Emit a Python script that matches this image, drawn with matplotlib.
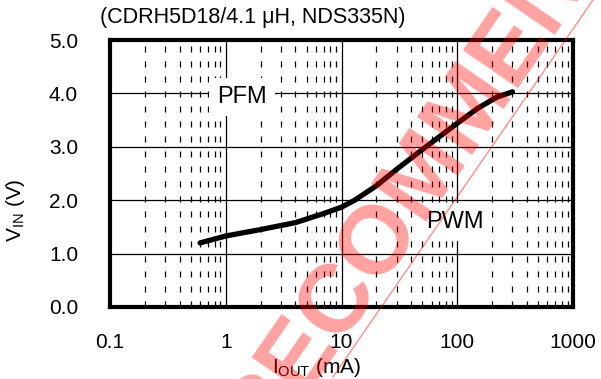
import numpy as np
import matplotlib
matplotlib.use("Agg")
import matplotlib.pyplot as plt
from matplotlib.ticker import LogLocator, FixedLocator, NullFormatter

plt.rcParams['font.family'] = ['Liberation Sans', 'DejaVu Sans']
plt.rcParams['mathtext.fontset'] = 'custom'
plt.rcParams['mathtext.rm'] = 'Liberation Sans'
plt.rcParams['mathtext.it'] = 'Liberation Sans'

# boundary curve
i_out = [0.6, 1, 2, 4, 7, 10, 13, 20, 30, 50, 100, 150, 220, 300]
v_in = [1.20, 1.33, 1.45, 1.58, 1.75, 1.87, 2.0, 2.27, 2.58, 2.95, 3.44, 3.72, 3.93, 4.03]

x_ticks = [0.1, 1, 10, 100, 1000]
x_labels = ['0.1', '1', '10', '100', '1000']
y_ticks = [0, 1, 2, 3, 4, 5]
y_labels = ['0.0', '1.0', '2.0', '3.0', '4.0', '5.0']

fig = plt.figure(figsize=(6.01, 3.79), dpi=100)
ax = fig.add_axes([110/601, 1-307/379, 463/601, 267/379])

ax.set_xscale('log')
ax.set_xlim(0.1, 1000)
ax.set_ylim(0, 5)

# grid: solid majors, dashed minor verticals
ax.xaxis.set_major_locator(FixedLocator(x_ticks))
ax.xaxis.set_minor_locator(LogLocator(base=10, subs=np.arange(2, 10)))
ax.xaxis.set_minor_formatter(NullFormatter())
ax.set_xticks(x_ticks)
ax.set_xticklabels(x_labels)
ax.set_yticks(y_ticks)
ax.set_yticklabels(y_labels)
ax.grid(True, which='major', color='black', lw=0.9)
ax.grid(True, which='minor', axis='x', color='black', lw=0.9, ls=(0, (4.8, 7.2)))
ax.tick_params(which='both', length=0)
ax.tick_params(axis='y', pad=23, labelsize=15)
ax.tick_params(axis='x', pad=19, labelsize=15)
for s in ax.spines.values():
    s.set_linewidth(3)
ax.set_axisbelow(True)

ax.plot(i_out, v_in, color='black', lw=3.8, solid_capstyle='round', zorder=3)

ax.text(1.38, 3.93, 'PFM', fontsize=17, ha='center', va='center', zorder=4,
        bbox=dict(facecolor='white', edgecolor='none', pad=6))
ax.text(95, 1.59, 'PWM', fontsize=17, ha='center', va='center', zorder=4,
        bbox=dict(facecolor='white', edgecolor='none', pad=6))

ax.set_xlabel(r'I$_{\rm OUT}$ (mA)', fontsize=15)
ax.xaxis.set_label_coords(0.447, -0.185)
ax.set_ylabel(r'V$_{\rm IN}$ (V)', fontsize=15)
ax.yaxis.set_label_coords(-0.179, 0.363)

fig.text(100/601, 1-18/379, '(CDRH5D18/4.1 \u03bcH, NDS335N)', fontsize=15.5,
         ha='left', va='center')

# red watermark over the plot
fig.text(262/601, 1-452/379, 'RECOMMENDED', fontsize=70, fontweight='bold',
         color='red', alpha=0.37, rotation=55.5, rotation_mode='anchor',
         ha='left', va='baseline', zorder=10)
fig.add_artist(plt.Line2D([593/601, 333/601], [1.0, 1-377/379], color='red',
                          alpha=0.45, lw=1.0, zorder=10))

fig.savefig('out.png', dpi=100)
